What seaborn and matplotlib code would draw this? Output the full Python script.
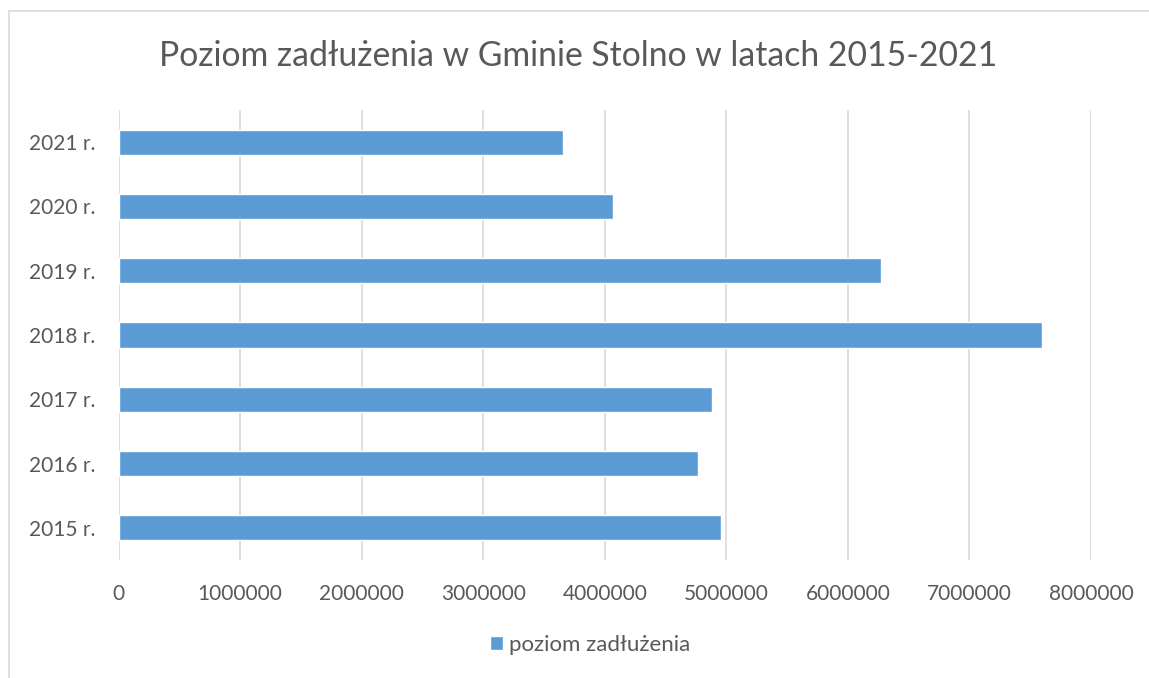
import matplotlib
matplotlib.use("Agg")
import matplotlib.pyplot as plt
import seaborn as sns
import pandas as pd
from matplotlib.lines import Line2D

# Chart data
years = ["2015 r.", "2016 r.", "2017 r.", "2018 r.", "2019 r.", "2020 r.", "2021 r."]
debt = [4955000, 4768000, 4880000, 7600000, 6270000, 4064000, 3655000]
x_ticks = [0, 1000000, 2000000, 3000000, 4000000, 5000000, 6000000, 7000000, 8000000]
series_name = "poziom zadłużenia"
title = "Poziom zadłużenia w Gminie Stolno w latach 2015-2021"

BAR_COLOR = "#5B9BD5"
TEXT_COLOR = "#595959"
GRID_COLOR = "#D9D9D9"

sns.set_style("white")
plt.rcParams["font.family"] = ["Lato", "DejaVu Sans"]

df = pd.DataFrame({"rok": years, "kwota": debt})

fig = plt.figure(figsize=(11.49, 6.78), dpi=100)
ax = fig.add_axes([118.5 / 1149, 1 - 560 / 678, (1091 - 118.5) / 1149, 450 / 678])

sns.barplot(data=df, x="kwota", y="rok", order=years[::-1], orient="h",
            color=BAR_COLOR, saturation=1, width=0.39, label=series_name, ax=ax)

ax.set_xlim(0, 8000000)
ax.set_ylim(6.5, -0.5)
ax.set_xticks(x_ticks)
ax.set_xticklabels([str(v) for v in x_ticks])
ax.set_xlabel("")
ax.set_ylabel("")
ax.grid(axis="x", color=GRID_COLOR, linewidth=1.2)
ax.set_axisbelow(True)
for s in ax.spines.values():
    s.set_visible(False)
ax.tick_params(axis="both", length=0, labelsize=15, colors=TEXT_COLOR)
ax.tick_params(axis="y", pad=17)
ax.tick_params(axis="x", pad=17)

fig.text(0.5 + 4 / 1149, 1 - 56 / 678, title, ha="center", va="center",
         fontsize=24.3, color=TEXT_COLOR)

pos = ax.get_position()
ax.legend(loc="center",
          bbox_to_anchor=((590 / 1149 - pos.x0) / pos.width, (1 - 645 / 678 - pos.y0) / pos.height),
          frameon=False, fontsize=16, labelcolor=TEXT_COLOR,
          handlelength=0.59, handleheight=0.63, handletextpad=0.27)

# chart area border (left and top edges visible)
fig.add_artist(Line2D([9 / 1149, 9 / 1149], [0, 1 - 11 / 678], color=GRID_COLOR, lw=1.2, transform=fig.transFigure))
fig.add_artist(Line2D([9 / 1149, 1], [1 - 11 / 678, 1 - 11 / 678], color=GRID_COLOR, lw=1.2, transform=fig.transFigure))

fig.savefig("out.png", dpi=100)
